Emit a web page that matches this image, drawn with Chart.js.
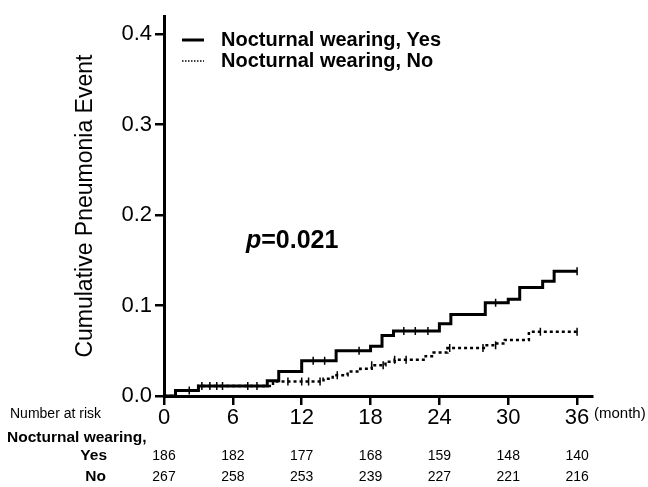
<!DOCTYPE html>
<html lang="en">

<head>
  <meta charset="UTF-8">
  <title>Cumulative Pneumonia Event</title>
  <script src="https://cdn.jsdelivr.net/npm/chart.js"></script>
  <style>
    body {
      margin: 0;
      background: #fff;
    }
  </style>
</head>

<body>
  <canvas id="kmChart" width="648" height="487"></canvas>
  <script>
    const FONT = "'Liberation Sans', Arial, sans-serif";

    // Kaplan-Meier style steps: month of each step and the new cumulative value
    const yesMonths = [0, 1, 3, 9, 10, 12, 15, 18, 19, 20, 24, 25, 28, 30, 31, 33, 34, 36];
    const yesEvent = [0, 0.006, 0.011, 0.017, 0.027, 0.039, 0.050, 0.055, 0.067, 0.072, 0.080, 0.090, 0.103, 0.107, 0.120, 0.127, 0.138, 0.138];
    const noMonths = [0, 1, 3, 9.5, 13.9, 14.7, 16, 17.1, 18.1, 19.3, 20.1, 22.8, 23.5, 24.7, 28, 29, 29.7, 31.8, 36];
    const noEvent = [0, 0.006, 0.011, 0.016, 0.019, 0.023, 0.027, 0.030, 0.034, 0.038, 0.040, 0.044, 0.048, 0.053, 0.056, 0.058, 0.062, 0.071, 0.071];

    // censoring marks (months)
    const yesCensorMonths = [2.2, 7.3, 8.1, 13, 14, 17, 20.9, 21.9, 23, 28.9, 36];
    const noCensorMonths = [3.3, 4, 4.6, 5.1, 10.8, 12, 12.6, 13.6, 15.1, 18.1, 19.1, 20.1, 21.1, 24.9, 27.8, 28.9, 32.8, 36];

    const xTicks = [0, 6, 12, 18, 24, 30, 36];
    const yTicks = [0, 0.1, 0.2, 0.3, 0.4];
    const yTickLabels = ['0.0', '0.1', '0.2', '0.3', '0.4'];

    const riskYes = [186, 182, 177, 168, 159, 148, 140];
    const riskNo = [267, 258, 253, 239, 227, 221, 216];

    const legendLabels = ['Nocturnal wearing, Yes', 'Nocturnal wearing, No'];
    const pValue = '=0.021';

    // value of a step curve at month t
    function stepAt(months, values, t) {
      let v = values[0];
      for (let i = 0; i < months.length; i++) {
        if (months[i] <= t) v = values[i];
      }
      return v;
    }

    const toPoints = (xs, ys) => xs.map((x, i) => ({ x: x, y: ys[i] }));
    const censorPoints = (marks, months, values) => marks.map(t => ({ x: t, y: stepAt(months, values, t) }));

    const yesDash = [];
    const noDash = [3, 3];

    // legend, p value and the number-at-risk table
    const extras = {
      id: 'extras',
      afterDraw(chart) {
        const ctx = chart.ctx;
        const xScale = chart.scales.x;
        ctx.save();
        ctx.fillStyle = '#000';
        ctx.strokeStyle = '#000';

        // legend
        const legendRows = [
          { y: 40, dash: yesDash, width: 3 },
          { y: 61, dash: noDash, width: 1.5 }
        ];
        legendRows.forEach((row, i) => {
          ctx.lineWidth = row.width;
          ctx.setLineDash(row.dash.length ? [1.5, 1.5] : []);
          ctx.beginPath();
          ctx.moveTo(182, row.y);
          ctx.lineTo(204, row.y);
          ctx.stroke();
          ctx.setLineDash([]);
          ctx.font = 'bold 20px ' + FONT;
          ctx.textAlign = 'left';
          ctx.textBaseline = 'middle';
          ctx.fillText(legendLabels[i], 221, row.y);
        });

        // p value
        ctx.textBaseline = 'middle';
        ctx.font = 'italic bold 25px ' + FONT;
        ctx.fillText('p', 246, 241);
        const pw = ctx.measureText('p').width;
        ctx.font = 'bold 25px ' + FONT;
        ctx.fillText(pValue, 246 + pw, 241);

        // number at risk
        ctx.font = '14px ' + FONT;
        ctx.textAlign = 'left';
        ctx.fillText('Number at risk', 10, 414);
        ctx.font = '15px ' + FONT;
        ctx.fillText('(month)', 594, 414);
        ctx.font = 'bold 15.5px ' + FONT;
        ctx.fillText('Nocturnal wearing,', 7, 438);
        ctx.textAlign = 'right';
        ctx.fillText('Yes', 107, 456);
        ctx.fillText('No', 106, 477);

        ctx.font = '14px ' + FONT;
        ctx.textAlign = 'center';
        xTicks.forEach((t, i) => {
          const px = xScale.getPixelForValue(t);
          ctx.fillText(String(riskYes[i]), px, 456);
          ctx.fillText(String(riskNo[i]), px, 477);
        });
        ctx.restore();
      }
    };

    const ctx = document.getElementById('kmChart').getContext('2d');

    new Chart(ctx, {
      type: 'scatter',
      data: {
        datasets: [{
          label: legendLabels[0],
          data: toPoints(yesMonths, yesEvent),
          showLine: true,
          stepped: 'before',
          borderColor: '#000',
          borderWidth: 3,
          borderDash: yesDash,
          pointRadius: 0,
        }, {
          label: legendLabels[1],
          data: toPoints(noMonths, noEvent),
          showLine: true,
          stepped: 'before',
          borderColor: '#000',
          borderWidth: 2.5,
          borderDash: noDash,
          pointRadius: 0,
        }, {
          label: 'censor yes',
          data: censorPoints(yesCensorMonths, yesMonths, yesEvent),
          showLine: false,
          pointStyle: 'line',
          rotation: 90,
          pointRadius: 4,
          borderColor: '#000',
          borderWidth: 1.5,
        }, {
          label: 'censor no',
          data: censorPoints(noCensorMonths, noMonths, noEvent),
          showLine: false,
          pointStyle: 'line',
          rotation: 90,
          pointRadius: 4,
          borderColor: '#000',
          borderWidth: 1.5,
        }]
      },
      options: {
        responsive: false,
        maintainAspectRatio: false,
        animation: false,
        layout: {
          padding: { left: 68, top: 15, right: 56, bottom: 0 }
        },
        plugins: {
          legend: { display: false },
          tooltip: { enabled: false }
        },
        scales: {
          x: {
            type: 'linear',
            min: 0,
            max: 37.3,
            afterFit(scale) { scale.height = 91; },
            afterBuildTicks(scale) { scale.ticks = xTicks.map(v => ({ value: v })); },
            grid: { drawOnChartArea: false, drawTicks: true, tickLength: 9, color: '#000', lineWidth: 2.5 },
            border: { display: true, color: '#000', width: 3 },
            ticks: {
              color: '#000',
              padding: 0,
              maxRotation: 0,
              font: { family: FONT, size: 22 },
              callback: v => String(v)
            }
          },
          y: {
            type: 'linear',
            min: 0,
            max: 0.42,
            afterFit(scale) { scale.width = 96; },
            afterBuildTicks(scale) { scale.ticks = yTicks.map(v => ({ value: v })); },
            grid: { drawOnChartArea: false, drawTicks: true, tickLength: 9, color: '#000', lineWidth: 2.5 },
            border: { display: true, color: '#000', width: 3 },
            ticks: {
              color: '#000',
              padding: 3,
              font: { family: FONT, size: 22 },
              callback: (v, i) => yTickLabels[i]
            },
            title: {
              display: true,
              text: 'Cumulative Pneumonia Event',
              color: '#000',
              font: { family: FONT, size: 23 }
            }
          }
        }
      },
      plugins: [extras]
    });
  </script>
</body>

</html>
